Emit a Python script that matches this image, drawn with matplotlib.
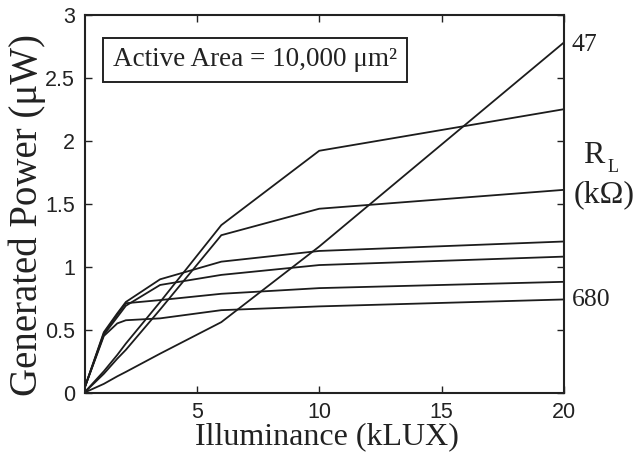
import matplotlib
matplotlib.use("Agg")
import matplotlib.pyplot as plt

# Illuminance sample points (kLUX)
illuminance = [0.4, 1.2, 1.75, 2.1, 3.5, 6.0, 10.0, 20.0]

# Generated power (uW) for each load resistance, top to bottom at 20 kLUX
power_47 = [0.0, 0.07, 0.13, 0.165, 0.31, 0.56, 1.16, 2.78]
power_r2 = [0.0, 0.17, 0.30, 0.39, 0.72, 1.33, 1.92, 2.25]
power_r3 = [0.0, 0.15, 0.27, 0.34, 0.66, 1.25, 1.46, 1.61]
power_r4 = [0.03, 0.48, 0.63, 0.72, 0.90, 1.04, 1.125, 1.20]
power_r5 = [0.03, 0.46, 0.60, 0.69, 0.855, 0.935, 1.013, 1.08]
power_r6 = [0.03, 0.47, 0.62, 0.71, 0.735, 0.785, 0.83, 0.88]
power_680 = [0.03, 0.45, 0.55, 0.575, 0.59, 0.655, 0.685, 0.74]

series = [power_47, power_r2, power_r3, power_r4, power_r5, power_r6, power_680]

x_ticks = [5, 10, 15, 20]
y_ticks = [0, 0.5, 1, 1.5, 2, 2.5, 3]
y_tick_labels = ["0", "0.5", "1", "1.5", "2", "2.5", "3"]

serif = ["Liberation Serif", "DejaVu Serif"]
sans = ["Liberation Sans", "DejaVu Sans"]
ink = "#222222"

W, H = 638, 468
fig = plt.figure(figsize=(W / 100, H / 100), dpi=100)
ax = fig.add_axes([0.1328, 0.1609, 0.7512, 0.8077])

for p in series:
    ax.plot(illuminance, p, color="#1c1c1c", lw=1.3, solid_joinstyle="miter")

ax.set_xlim(0.42, 20)
ax.set_ylim(0, 3)
ax.set_xticks(x_ticks)
ax.set_yticks(y_ticks)
ax.set_yticklabels(y_tick_labels)
ax.tick_params(direction="in", length=5, width=1.0, top=True, right=True,
               labelsize=15.5, colors=ink)
ax.tick_params(axis="y", pad=7)
ax.tick_params(axis="x", pad=7)
for lab in ax.get_xticklabels() + ax.get_yticklabels():
    lab.set_family(sans)
for sp in ax.spines.values():
    sp.set_linewidth(1.5)
    sp.set_color(ink)

ax.set_xlabel("Illuminance (kLUX)", family=serif, fontsize=23, color=ink)
ax.xaxis.set_label_coords((327 - 84.7) / 479.3, -(437 - 392.7) / 378,
                          transform=ax.transAxes)
ax.xaxis.label.set_va("center")
ax.set_ylabel("Generated Power (\u03bcW)", family=serif, fontsize=28, color=ink)
ax.yaxis.set_label_coords(-(84.7 - 27) / 479.3, (392.7 - 215) / 378,
                          transform=ax.transAxes)
ax.yaxis.label.set_va("center")

ax.text((255 - 84.7) / 479.3, (392.7 - 60) / 378,
        "Active Area = 10,000 \u03bcm\u00b2", transform=ax.transAxes,
        family=serif, fontsize=19.5, ha="center", va="center", color=ink,
        bbox=dict(boxstyle="square,pad=0.35", fc="white", ec=ink, lw=1.4))

# Load resistance annotations on the right
def fig_text(x, y, s, size, ha="left"):
    fig.text(x / W, 1 - y / H, s, family=serif, fontsize=size,
             ha=ha, va="center", color=ink)

fig_text(572, 45, "47", 18.5)
fig_text(572, 300, "680", 18.5)
fig_text(583, 156, "R", 23)
fig_text(608, 168, "L", 13)
fig_text(604, 195, "(k\u03a9)", 23, ha="center")

fig.savefig("out.png", dpi=100, facecolor="white")
